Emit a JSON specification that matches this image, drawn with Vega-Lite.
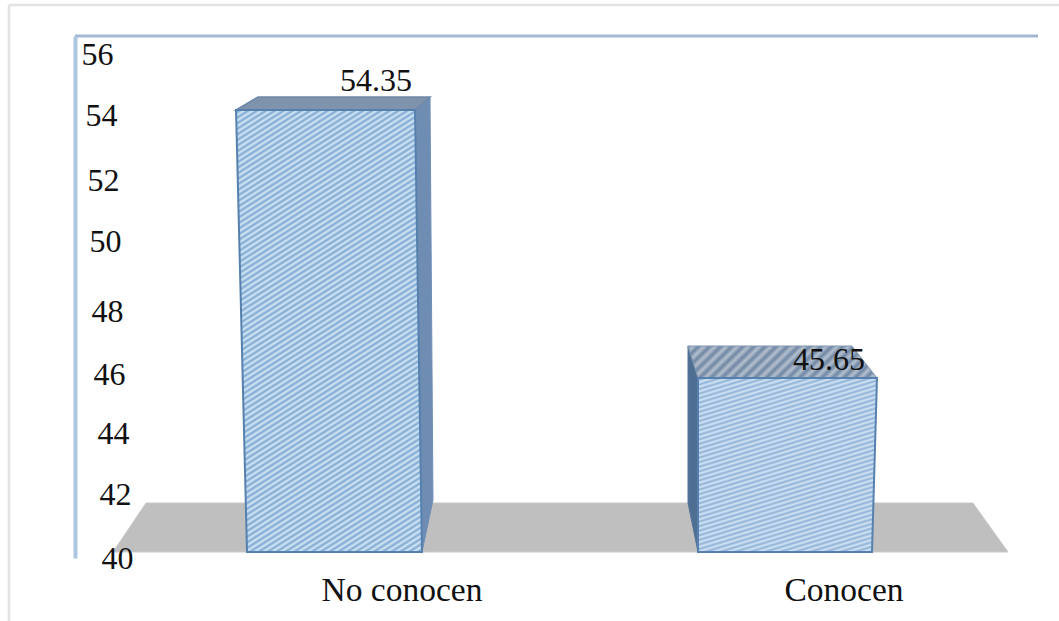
{
"$schema":"https://vega.github.io/schema/vega-lite/v6.json",
"width":963,"height":522,
"autosize":{"type":"none"},
"padding":{"left":75,"top":36,"right":21,"bottom":63},
"background":"white",
"config":{"view":{"stroke":null},"font":"Liberation Serif"},
"datasets":{
"barras":[{"categoria":"No conocen","indice":0,"valor":54.35},{"categoria":"Conocen","indice":1,"valor":45.65}],
"marco":[
{"u":-0.7225,"v":57.76,"u2":1.6083,"v2":57.76},
{"u":-0.7225,"v":57.76,"u2":-0.7225,"v2":37.76}
],
"caras":[
{"cara":"piso","orden":1,"u":-0.4917,"v":40},{"cara":"piso","orden":2,"u":-0.4184,"v":41.591},{"cara":"piso","orden":3,"u":1.4173,"v":41.591},{"cara":"piso","orden":4,"u":1.495,"v":40},
{"cara":"lado1","orden":1,"u":0.1787,"v":54.35},{"cara":"lado1","orden":2,"u":0.212,"v":54.773},{"cara":"lado1","orden":3,"u":0.2186,"v":41.688},{"cara":"lado1","orden":4,"u":0.1942,"v":40},
{"cara":"tapa1","orden":1,"u":-0.2186,"v":54.35},{"cara":"tapa1","orden":2,"u":-0.1698,"v":54.773},{"cara":"tapa1","orden":3,"u":0.212,"v":54.773},{"cara":"tapa1","orden":4,"u":0.1787,"v":54.35},
{"cara":"frente1","orden":1,"u":-0.2186,"v":54.35},{"cara":"frente1","orden":2,"u":0.1787,"v":54.35},{"cara":"frente1","orden":3,"u":0.1942,"v":40},{"cara":"frente1","orden":4,"u":-0.1942,"v":40},
{"cara":"lado2","orden":1,"u":0.7847,"v":46.688},{"cara":"lado2","orden":2,"u":0.8069,"v":45.65},{"cara":"lado2","orden":3,"u":0.8069,"v":40},{"cara":"lado2","orden":4,"u":0.7847,"v":41.591},
{"cara":"tapa2","orden":1,"u":0.7847,"v":46.688},{"cara":"tapa2","orden":2,"u":1.1487,"v":46.688},{"cara":"tapa2","orden":3,"u":1.2042,"v":45.65},{"cara":"tapa2","orden":4,"u":0.8069,"v":45.65},
{"cara":"frente2","orden":1,"u":0.8069,"v":45.65},{"cara":"frente2","orden":2,"u":1.2042,"v":45.65},{"cara":"frente2","orden":3,"u":1.1931,"v":40},{"cara":"frente2","orden":4,"u":0.8069,"v":40}
]
},
"data":{"name":"caras"},
"encoding":{
"x":{"field":"u","type":"quantitative","title":null,"scale":{"domain":[-0.57603,1.5616],"nice":false,"zero":false},
"axis":{"values":[0,1],"labelExpr":"datum.value==0?'No conocen':'Conocen'","grid":false,"ticks":false,"domain":false,"labelFontSize":33.5,"labelFont":"Liberation Serif","labelColor":"#111111","labelPadding":16,"labelFlush":false,"labelOverlap":false,"encoding":{"labels":{"dx":{"value":{"expr":"datum.value==0?67:58.5"}}}}}},
"y":{"field":"v","type":"quantitative","title":null,"scale":{"domain":[39.805,56.753],"nice":false,"zero":false},
"axis":{"values":[40,42,44,46,48,50,52,54,56],"grid":false,"ticks":false,"domainColor":"#adc6e2","domainWidth":4,"labelFontSize":32,"labelFont":"Liberation Serif","labelColor":"#111111","labelAlign":"left","labelBaseline":"middle","labelPadding":-6,"labelOverlap":false,"labelBound":false,"labelFlush":false,"zindex":1,"encoding":{"labels":{
"dx":{"value":{"expr":"{'56':0,'54':4,'52':6,'50':8,'48':10,'46':12,'44':16,'42':18,'40':20}[datum.value]"}},
"dy":{"value":{"expr":"{'56':-5,'54':-5,'52':-2,'50':-2,'48':6,'46':7,'44':5,'42':4,'40':7}[datum.value]"}}}}}}
},
"layer":[
{"data":{"name":"marco"},"mark":{"type":"rule","stroke":"#e2e2e2","strokeWidth":2.5},"encoding":{"x2":{"field":"u2"},"y2":{"field":"v2"}}},
{"data":{"values":[{"u":-0.57603,"v":56.753,"u2":1.5616}]},"mark":{"type":"rule","stroke":"#a3b9d3","strokeWidth":3},"encoding":{"x2":{"field":"u2"}}},
{"transform":[{"filter":"datum.cara=='piso'"}],"mark":{"type":"line","interpolate":"linear-closed","fill":"#bfbfbf","stroke":"#c9c9c9","strokeWidth":1},"encoding":{"order":{"field":"orden"}}},
{"transform":[{"filter":"datum.cara=='lado1'"}],"mark":{"type":"line","interpolate":"linear-closed","stroke":"#6f8fb8","strokeWidth":1,"fill":"#6f8db3"},"encoding":{"order":{"field":"orden"}}},
{"transform":[{"filter":"datum.cara=='tapa1'"}],"mark":{"type":"line","interpolate":"linear-closed","fill":"#7f93ad","stroke":"#6f88a8","strokeWidth":1.5},"encoding":{"order":{"field":"orden"}}},
{"transform":[{"filter":"datum.cara=='frente1'"}],"mark":{"type":"line","interpolate":"linear-closed","stroke":"#5680ad","strokeWidth":2,"fill":{"gradient":"linear","x1":0,"y1":0,"x2":0.315,"y2":1.1825,"stops":[
{"offset":0,"color":"#d3e8f8"},{"offset":0.005,"color":"#7fa8d0"},{"offset":0.01,"color":"#d3e8f8"},{"offset":0.015,"color":"#7fa8d0"},{"offset":0.02,"color":"#d3e8f8"},{"offset":0.025,"color":"#7fa8d0"},{"offset":0.03,"color":"#d3e8f8"},{"offset":0.035,"color":"#7fa8d0"},{"offset":0.04,"color":"#d3e8f8"},{"offset":0.045,"color":"#7fa8d0"},
{"offset":0.05,"color":"#d3e8f8"},{"offset":0.055,"color":"#7fa8d0"},{"offset":0.06,"color":"#d3e8f8"},{"offset":0.065,"color":"#7fa8d0"},{"offset":0.07,"color":"#d3e8f8"},{"offset":0.075,"color":"#7fa8d0"},{"offset":0.08,"color":"#d3e8f8"},{"offset":0.085,"color":"#7fa8d0"},{"offset":0.09,"color":"#d3e8f8"},{"offset":0.095,"color":"#7fa8d0"},
{"offset":0.1,"color":"#d3e8f8"},{"offset":0.105,"color":"#7fa8d0"},{"offset":0.11,"color":"#d3e8f8"},{"offset":0.115,"color":"#7fa8d0"},{"offset":0.12,"color":"#d3e8f8"},{"offset":0.125,"color":"#7fa8d0"},{"offset":0.13,"color":"#d3e8f8"},{"offset":0.135,"color":"#7fa8d0"},{"offset":0.14,"color":"#d3e8f8"},{"offset":0.145,"color":"#7fa8d0"},
{"offset":0.15,"color":"#d3e8f8"},{"offset":0.155,"color":"#7fa8d0"},{"offset":0.16,"color":"#d3e8f8"},{"offset":0.165,"color":"#7fa8d0"},{"offset":0.17,"color":"#d3e8f8"},{"offset":0.175,"color":"#7fa8d0"},{"offset":0.18,"color":"#d3e8f8"},{"offset":0.185,"color":"#7fa8d0"},{"offset":0.19,"color":"#d3e8f8"},{"offset":0.195,"color":"#7fa8d0"},
{"offset":0.2,"color":"#d3e8f8"},{"offset":0.205,"color":"#7fa8d0"},{"offset":0.21,"color":"#d3e8f8"},{"offset":0.215,"color":"#7fa8d0"},{"offset":0.22,"color":"#d3e8f8"},{"offset":0.225,"color":"#7fa8d0"},{"offset":0.23,"color":"#d3e8f8"},{"offset":0.235,"color":"#7fa8d0"},{"offset":0.24,"color":"#d3e8f8"},{"offset":0.245,"color":"#7fa8d0"},
{"offset":0.25,"color":"#d3e8f8"},{"offset":0.255,"color":"#7fa8d0"},{"offset":0.26,"color":"#d3e8f8"},{"offset":0.265,"color":"#7fa8d0"},{"offset":0.27,"color":"#d3e8f8"},{"offset":0.275,"color":"#7fa8d0"},{"offset":0.28,"color":"#d3e8f8"},{"offset":0.285,"color":"#7fa8d0"},{"offset":0.29,"color":"#d3e8f8"},{"offset":0.295,"color":"#7fa8d0"},
{"offset":0.3,"color":"#d3e8f8"},{"offset":0.305,"color":"#7fa8d0"},{"offset":0.31,"color":"#d3e8f8"},{"offset":0.315,"color":"#7fa8d0"},{"offset":0.32,"color":"#d3e8f8"},{"offset":0.325,"color":"#7fa8d0"},{"offset":0.33,"color":"#d3e8f8"},{"offset":0.335,"color":"#7fa8d0"},{"offset":0.34,"color":"#d3e8f8"},{"offset":0.345,"color":"#7fa8d0"},
{"offset":0.35,"color":"#d3e8f8"},{"offset":0.355,"color":"#7fa8d0"},{"offset":0.36,"color":"#d3e8f8"},{"offset":0.365,"color":"#7fa8d0"},{"offset":0.37,"color":"#d3e8f8"},{"offset":0.375,"color":"#7fa8d0"},{"offset":0.38,"color":"#d3e8f8"},{"offset":0.385,"color":"#7fa8d0"},{"offset":0.39,"color":"#d3e8f8"},{"offset":0.395,"color":"#7fa8d0"},
{"offset":0.4,"color":"#d3e8f8"},{"offset":0.405,"color":"#7fa8d0"},{"offset":0.41,"color":"#d3e8f8"},{"offset":0.415,"color":"#7fa8d0"},{"offset":0.42,"color":"#d3e8f8"},{"offset":0.425,"color":"#7fa8d0"},{"offset":0.43,"color":"#d3e8f8"},{"offset":0.435,"color":"#7fa8d0"},{"offset":0.44,"color":"#d3e8f8"},{"offset":0.445,"color":"#7fa8d0"},
{"offset":0.45,"color":"#d3e8f8"},{"offset":0.455,"color":"#7fa8d0"},{"offset":0.46,"color":"#d3e8f8"},{"offset":0.465,"color":"#7fa8d0"},{"offset":0.47,"color":"#d3e8f8"},{"offset":0.475,"color":"#7fa8d0"},{"offset":0.48,"color":"#d3e8f8"},{"offset":0.485,"color":"#7fa8d0"},{"offset":0.49,"color":"#d3e8f8"},{"offset":0.495,"color":"#7fa8d0"},
{"offset":0.5,"color":"#d3e8f8"},{"offset":0.505,"color":"#7fa8d0"},{"offset":0.51,"color":"#d3e8f8"},{"offset":0.515,"color":"#7fa8d0"},{"offset":0.52,"color":"#d3e8f8"},{"offset":0.525,"color":"#7fa8d0"},{"offset":0.53,"color":"#d3e8f8"},{"offset":0.535,"color":"#7fa8d0"},{"offset":0.54,"color":"#d3e8f8"},{"offset":0.545,"color":"#7fa8d0"},
{"offset":0.55,"color":"#d3e8f8"},{"offset":0.555,"color":"#7fa8d0"},{"offset":0.56,"color":"#d3e8f8"},{"offset":0.565,"color":"#7fa8d0"},{"offset":0.57,"color":"#d3e8f8"},{"offset":0.575,"color":"#7fa8d0"},{"offset":0.58,"color":"#d3e8f8"},{"offset":0.585,"color":"#7fa8d0"},{"offset":0.59,"color":"#d3e8f8"},{"offset":0.595,"color":"#7fa8d0"},
{"offset":0.6,"color":"#d3e8f8"},{"offset":0.605,"color":"#7fa8d0"},{"offset":0.61,"color":"#d3e8f8"},{"offset":0.615,"color":"#7fa8d0"},{"offset":0.62,"color":"#d3e8f8"},{"offset":0.625,"color":"#7fa8d0"},{"offset":0.63,"color":"#d3e8f8"},{"offset":0.635,"color":"#7fa8d0"},{"offset":0.64,"color":"#d3e8f8"},{"offset":0.645,"color":"#7fa8d0"},
{"offset":0.65,"color":"#d3e8f8"},{"offset":0.655,"color":"#7fa8d0"},{"offset":0.66,"color":"#d3e8f8"},{"offset":0.665,"color":"#7fa8d0"},{"offset":0.67,"color":"#d3e8f8"},{"offset":0.675,"color":"#7fa8d0"},{"offset":0.68,"color":"#d3e8f8"},{"offset":0.685,"color":"#7fa8d0"},{"offset":0.69,"color":"#d3e8f8"},{"offset":0.695,"color":"#7fa8d0"},
{"offset":0.7,"color":"#d3e8f8"},{"offset":0.705,"color":"#7fa8d0"},{"offset":0.71,"color":"#d3e8f8"},{"offset":0.715,"color":"#7fa8d0"},{"offset":0.72,"color":"#d3e8f8"},{"offset":0.725,"color":"#7fa8d0"},{"offset":0.73,"color":"#d3e8f8"},{"offset":0.735,"color":"#7fa8d0"},{"offset":0.74,"color":"#d3e8f8"},{"offset":0.745,"color":"#7fa8d0"},
{"offset":0.75,"color":"#d3e8f8"},{"offset":0.755,"color":"#7fa8d0"},{"offset":0.76,"color":"#d3e8f8"},{"offset":0.765,"color":"#7fa8d0"},{"offset":0.77,"color":"#d3e8f8"},{"offset":0.775,"color":"#7fa8d0"},{"offset":0.78,"color":"#d3e8f8"},{"offset":0.785,"color":"#7fa8d0"},{"offset":0.79,"color":"#d3e8f8"},{"offset":0.795,"color":"#7fa8d0"},
{"offset":0.8,"color":"#d3e8f8"},{"offset":0.805,"color":"#7fa8d0"},{"offset":0.81,"color":"#d3e8f8"},{"offset":0.815,"color":"#7fa8d0"},{"offset":0.82,"color":"#d3e8f8"},{"offset":0.825,"color":"#7fa8d0"},{"offset":0.83,"color":"#d3e8f8"},{"offset":0.835,"color":"#7fa8d0"},{"offset":0.84,"color":"#d3e8f8"},{"offset":0.845,"color":"#7fa8d0"},
{"offset":0.85,"color":"#d3e8f8"},{"offset":0.855,"color":"#7fa8d0"},{"offset":0.86,"color":"#d3e8f8"},{"offset":0.865,"color":"#7fa8d0"},{"offset":0.87,"color":"#d3e8f8"},{"offset":0.875,"color":"#7fa8d0"},{"offset":0.88,"color":"#d3e8f8"},{"offset":0.885,"color":"#7fa8d0"},{"offset":0.89,"color":"#d3e8f8"},{"offset":0.895,"color":"#7fa8d0"},
{"offset":0.9,"color":"#d3e8f8"},{"offset":0.905,"color":"#7fa8d0"},{"offset":0.91,"color":"#d3e8f8"},{"offset":0.915,"color":"#7fa8d0"},{"offset":0.92,"color":"#d3e8f8"},{"offset":0.925,"color":"#7fa8d0"},{"offset":0.93,"color":"#d3e8f8"},{"offset":0.935,"color":"#7fa8d0"},{"offset":0.94,"color":"#d3e8f8"},{"offset":0.945,"color":"#7fa8d0"},
{"offset":0.95,"color":"#d3e8f8"},{"offset":0.955,"color":"#7fa8d0"},{"offset":0.96,"color":"#d3e8f8"},{"offset":0.965,"color":"#7fa8d0"},{"offset":0.97,"color":"#d3e8f8"},{"offset":0.975,"color":"#7fa8d0"},{"offset":0.98,"color":"#d3e8f8"},{"offset":0.985,"color":"#7fa8d0"},{"offset":0.99,"color":"#d3e8f8"},{"offset":0.995,"color":"#7fa8d0"},{"offset":1,"color":"#d3e8f8"}
]}},"encoding":{"order":{"field":"orden"}}},
{"transform":[{"filter":"datum.cara=='lado2'"}],"mark":{"type":"line","interpolate":"linear-closed","fill":"#4f6f92","stroke":"#55759a","strokeWidth":1},"encoding":{"order":{"field":"orden"}}},
{"transform":[{"filter":"datum.cara=='tapa2'"}],"mark":{"type":"line","interpolate":"linear-closed","stroke":"#8196b0","strokeWidth":1,"fill":{"gradient":"linear","x1":0,"y1":0,"x2":1.139,"y2":0.198,"stops":[
{"offset":0,"color":"#6f86a3"},{"offset":0.025,"color":"#b4c0cf"},{"offset":0.05,"color":"#6f86a3"},{"offset":0.075,"color":"#b4c0cf"},{"offset":0.1,"color":"#6f86a3"},{"offset":0.125,"color":"#b4c0cf"},{"offset":0.15,"color":"#6f86a3"},{"offset":0.175,"color":"#b4c0cf"},{"offset":0.2,"color":"#6f86a3"},{"offset":0.225,"color":"#b4c0cf"},{"offset":0.25,"color":"#6f86a3"},{"offset":0.275,"color":"#b4c0cf"},{"offset":0.3,"color":"#6f86a3"},{"offset":0.325,"color":"#b4c0cf"},{"offset":0.35,"color":"#6f86a3"},{"offset":0.375,"color":"#b4c0cf"},{"offset":0.4,"color":"#6f86a3"},{"offset":0.425,"color":"#b4c0cf"},{"offset":0.45,"color":"#6f86a3"},{"offset":0.475,"color":"#b4c0cf"},{"offset":0.5,"color":"#6f86a3"},{"offset":0.525,"color":"#b4c0cf"},{"offset":0.55,"color":"#6f86a3"},{"offset":0.575,"color":"#b4c0cf"},{"offset":0.6,"color":"#6f86a3"},{"offset":0.625,"color":"#b4c0cf"},{"offset":0.65,"color":"#6f86a3"},{"offset":0.675,"color":"#b4c0cf"},{"offset":0.7,"color":"#6f86a3"},{"offset":0.725,"color":"#b4c0cf"},{"offset":0.75,"color":"#6f86a3"},{"offset":0.775,"color":"#b4c0cf"},{"offset":0.8,"color":"#6f86a3"},{"offset":0.825,"color":"#b4c0cf"},{"offset":0.85,"color":"#6f86a3"},{"offset":0.875,"color":"#b4c0cf"},{"offset":0.9,"color":"#6f86a3"},{"offset":0.925,"color":"#b4c0cf"},{"offset":0.95,"color":"#6f86a3"},{"offset":0.975,"color":"#b4c0cf"},{"offset":1,"color":"#6f86a3"}
]}},"encoding":{"order":{"field":"orden"}}},
{"transform":[{"filter":"datum.cara=='frente2'"}],"mark":{"type":"line","interpolate":"linear-closed","stroke":"#5680ad","strokeWidth":2,"fill":{"gradient":"linear","x1":0,"y1":0,"x2":0.375,"y2":1.196,"stops":[
{"offset":0,"color":"#d3e4f6"},{"offset":0.01,"color":"#8fb2d6"},{"offset":0.02,"color":"#d3e4f6"},{"offset":0.03,"color":"#8fb2d6"},{"offset":0.04,"color":"#d3e4f6"},{"offset":0.05,"color":"#8fb2d6"},{"offset":0.06,"color":"#d3e4f6"},{"offset":0.07,"color":"#8fb2d6"},{"offset":0.08,"color":"#d3e4f6"},{"offset":0.09,"color":"#8fb2d6"},
{"offset":0.1,"color":"#d3e4f6"},{"offset":0.11,"color":"#8fb2d6"},{"offset":0.12,"color":"#d3e4f6"},{"offset":0.13,"color":"#8fb2d6"},{"offset":0.14,"color":"#d3e4f6"},{"offset":0.15,"color":"#8fb2d6"},{"offset":0.16,"color":"#d3e4f6"},{"offset":0.17,"color":"#8fb2d6"},{"offset":0.18,"color":"#d3e4f6"},{"offset":0.19,"color":"#8fb2d6"},
{"offset":0.2,"color":"#d3e4f6"},{"offset":0.21,"color":"#8fb2d6"},{"offset":0.22,"color":"#d3e4f6"},{"offset":0.23,"color":"#8fb2d6"},{"offset":0.24,"color":"#d3e4f6"},{"offset":0.25,"color":"#8fb2d6"},{"offset":0.26,"color":"#d3e4f6"},{"offset":0.27,"color":"#8fb2d6"},{"offset":0.28,"color":"#d3e4f6"},{"offset":0.29,"color":"#8fb2d6"},
{"offset":0.3,"color":"#d3e4f6"},{"offset":0.31,"color":"#8fb2d6"},{"offset":0.32,"color":"#d3e4f6"},{"offset":0.33,"color":"#8fb2d6"},{"offset":0.34,"color":"#d3e4f6"},{"offset":0.35,"color":"#8fb2d6"},{"offset":0.36,"color":"#d3e4f6"},{"offset":0.37,"color":"#8fb2d6"},{"offset":0.38,"color":"#d3e4f6"},{"offset":0.39,"color":"#8fb2d6"},
{"offset":0.4,"color":"#d3e4f6"},{"offset":0.41,"color":"#8fb2d6"},{"offset":0.42,"color":"#d3e4f6"},{"offset":0.43,"color":"#8fb2d6"},{"offset":0.44,"color":"#d3e4f6"},{"offset":0.45,"color":"#8fb2d6"},{"offset":0.46,"color":"#d3e4f6"},{"offset":0.47,"color":"#8fb2d6"},{"offset":0.48,"color":"#d3e4f6"},{"offset":0.49,"color":"#8fb2d6"},
{"offset":0.5,"color":"#d3e4f6"},{"offset":0.51,"color":"#8fb2d6"},{"offset":0.52,"color":"#d3e4f6"},{"offset":0.53,"color":"#8fb2d6"},{"offset":0.54,"color":"#d3e4f6"},{"offset":0.55,"color":"#8fb2d6"},{"offset":0.56,"color":"#d3e4f6"},{"offset":0.57,"color":"#8fb2d6"},{"offset":0.58,"color":"#d3e4f6"},{"offset":0.59,"color":"#8fb2d6"},
{"offset":0.6,"color":"#d3e4f6"},{"offset":0.61,"color":"#8fb2d6"},{"offset":0.62,"color":"#d3e4f6"},{"offset":0.63,"color":"#8fb2d6"},{"offset":0.64,"color":"#d3e4f6"},{"offset":0.65,"color":"#8fb2d6"},{"offset":0.66,"color":"#d3e4f6"},{"offset":0.67,"color":"#8fb2d6"},{"offset":0.68,"color":"#d3e4f6"},{"offset":0.69,"color":"#8fb2d6"},
{"offset":0.7,"color":"#d3e4f6"},{"offset":0.71,"color":"#8fb2d6"},{"offset":0.72,"color":"#d3e4f6"},{"offset":0.73,"color":"#8fb2d6"},{"offset":0.74,"color":"#d3e4f6"},{"offset":0.75,"color":"#8fb2d6"},{"offset":0.76,"color":"#d3e4f6"},{"offset":0.77,"color":"#8fb2d6"},{"offset":0.78,"color":"#d3e4f6"},{"offset":0.79,"color":"#8fb2d6"},
{"offset":0.8,"color":"#d3e4f6"},{"offset":0.81,"color":"#8fb2d6"},{"offset":0.82,"color":"#d3e4f6"},{"offset":0.83,"color":"#8fb2d6"},{"offset":0.84,"color":"#d3e4f6"},{"offset":0.85,"color":"#8fb2d6"},{"offset":0.86,"color":"#d3e4f6"},{"offset":0.87,"color":"#8fb2d6"},{"offset":0.88,"color":"#d3e4f6"},{"offset":0.89,"color":"#8fb2d6"},
{"offset":0.9,"color":"#d3e4f6"},{"offset":0.91,"color":"#8fb2d6"},{"offset":0.92,"color":"#d3e4f6"},{"offset":0.93,"color":"#8fb2d6"},{"offset":0.94,"color":"#d3e4f6"},{"offset":0.95,"color":"#8fb2d6"},{"offset":0.96,"color":"#d3e4f6"},{"offset":0.97,"color":"#8fb2d6"},{"offset":0.98,"color":"#d3e4f6"},{"offset":0.99,"color":"#8fb2d6"},{"offset":1,"color":"#d3e4f6"}
]}},"encoding":{"order":{"field":"orden"}}},
{"data":{"name":"barras"},"transform":[{"filter":"datum.indice==0"}],"mark":{"type":"text","font":"Liberation Serif","fontSize":32,"color":"#111111","dx":41.5,"dy":-29,"baseline":"middle"},"encoding":{"x":{"field":"indice","type":"quantitative"},"y":{"field":"valor","type":"quantitative"},"text":{"field":"valor","format":".2f"}}},
{"data":{"name":"barras"},"transform":[{"filter":"datum.indice==1"}],"mark":{"type":"text","font":"Liberation Serif","fontSize":32,"color":"#111111","dx":44,"dy":-18,"baseline":"middle"},"encoding":{"x":{"field":"indice","type":"quantitative"},"y":{"field":"valor","type":"quantitative"},"text":{"field":"valor","format":".2f"}}}
]
}
